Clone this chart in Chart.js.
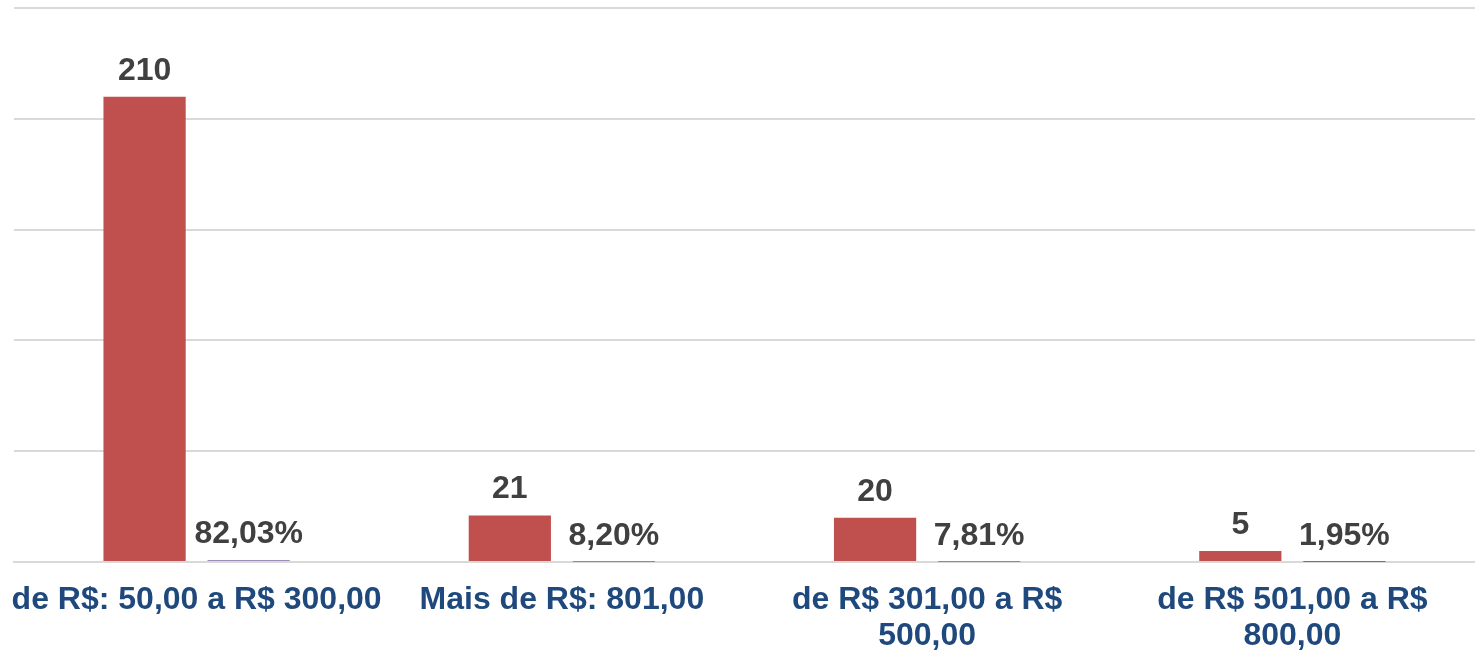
<!DOCTYPE html>
<html>
<head>
<meta charset="utf-8">
<script src="https://cdn.jsdelivr.net/npm/chart.js@4.4.1/dist/chart.umd.min.js"></script>
<style>
html,body{margin:0;padding:0;background:#fff;}
#wrap{width:1475px;height:651px;position:relative;}
</style>
</head>
<body>
<div id="wrap"><canvas id="c"></canvas></div>
<script>
const categories = [
  "de R$: 50,00 a R$ 300,00",
  "Mais de R$: 801,00",
  ["de R$ 301,00 a R$", "500,00"],
  ["de R$ 501,00 a R$", "800,00"]
];
const counts = [210, 21, 20, 5];
const shares = [0.8203, 0.0820, 0.0781, 0.0195];
const yTicks = { min: 0, max: 250, step: 50 };

const FONT = "'Liberation Sans', Arial, sans-serif";

const labelPlugin = {
  id: 'valueLabels',
  afterDatasetsDraw(chart) {
    const ctx = chart.ctx;
    ctx.save();
    ctx.font = "bold 32px " + FONT;
    ctx.fillStyle = "#404040";
    ctx.textAlign = "center";
    ctx.textBaseline = "alphabetic";
    chart.data.datasets.forEach((ds, di) => {
      const meta = chart.getDatasetMeta(di);
      meta.data.forEach((el, i) => {
        const v = ds.data[i];
        const txt = di === 0 ? String(v) : (v * 100).toFixed(2).replace('.', ',') + '%';
        ctx.fillText(txt, el.x, el.y - 17);
      });
    });
    ctx.restore();
  }
};

new Chart(document.getElementById('c'), {
  type: 'bar',
  data: {
    labels: categories,
    datasets: [
      { label: 'Quantidade', data: counts, backgroundColor: '#C0504D', borderWidth: 0, inflateAmount: 0 },
      { label: 'Percentual', data: shares, backgroundColor: '#8064A2', borderWidth: 0, inflateAmount: 0 }
    ]
  },
  options: {
    responsive: true,
    maintainAspectRatio: false,
    animation: false,
    devicePixelRatio: 1,
    layout: { padding: { left: 14, right: -3, top: 8, bottom: 0 } },
    datasets: { bar: { categoryPercentage: 0.57, barPercentage: 0.79 } },
    plugins: { legend: { display: false }, tooltip: { enabled: false } },
    scales: {
      x: {
        grid: { display: false, drawTicks: false },
        border: { display: true, color: '#d9d9d9', width: 2 },
        ticks: {
          color: '#1F497D',
          font: { family: FONT, size: 32, weight: 'bold', lineHeight: 1.12 },
          padding: 20,
          maxRotation: 0,
          autoSkip: false
        },
        afterFit(scale) { scale.height = 89; scale.paddingLeft = 0; scale.paddingRight = 0; }
      },
      y: {
        min: yTicks.min,
        max: yTicks.max,
        ticks: { display: false, stepSize: yTicks.step },
        grid: { color: '#d9d9d9', lineWidth: 2, drawTicks: false },
        border: { display: false }
      }
    }
  },
  plugins: [labelPlugin]
});
</script>
</body>
</html>
